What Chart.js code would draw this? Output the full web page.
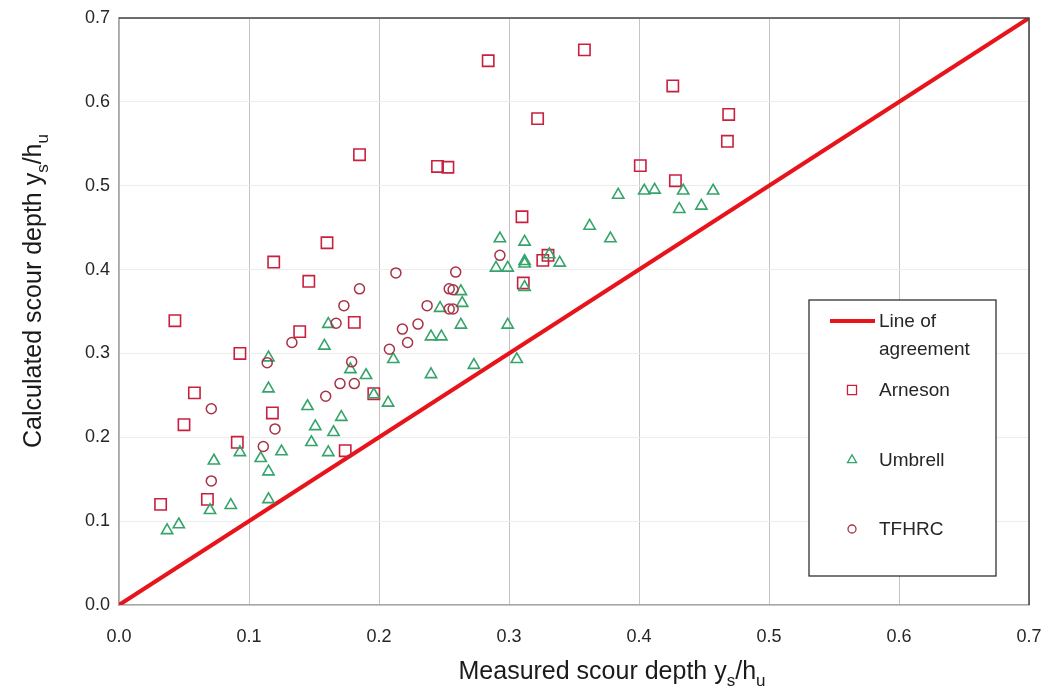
<!DOCTYPE html>
<html>
<head>
<meta charset="utf-8">
<script src="https://cdn.jsdelivr.net/npm/chart.js@4.4.0/dist/chart.umd.min.js"></script>
<style>
  html, body { margin: 0; padding: 0; background: #ffffff; }
  #wrap { width: 1048px; height: 694px; position: relative; }
</style>
</head>
<body>
<div id="wrap"><canvas id="scourChart"></canvas></div>
<script>
// Measured (x) vs calculated (y) scour depth
const arnesonMeasured = [0.032, 0.043, 0.050, 0.058, 0.068, 0.091, 0.093, 0.118, 0.119, 0.139,
    0.146, 0.160, 0.174, 0.181, 0.185, 0.196, 0.245, 0.253, 0.284, 0.310,
    0.311, 0.322, 0.326, 0.330, 0.358, 0.401, 0.426, 0.428, 0.468, 0.469];
const arnesonCalculated = [0.120, 0.339, 0.215, 0.253, 0.126, 0.194, 0.300, 0.229, 0.409, 0.326,
    0.386, 0.432, 0.184, 0.337, 0.537, 0.252, 0.523, 0.522, 0.649, 0.463,
    0.384, 0.580, 0.411, 0.417, 0.662, 0.524, 0.619, 0.506, 0.553, 0.585];

const umbrellMeasured = [0.037, 0.046, 0.070, 0.073, 0.086, 0.093, 0.109, 0.115, 0.115, 0.115,
    0.115, 0.125, 0.145, 0.148, 0.151, 0.158, 0.161, 0.161, 0.165, 0.171,
    0.178, 0.190, 0.196, 0.207, 0.211, 0.240, 0.240, 0.248, 0.247, 0.263,
    0.264, 0.263, 0.273, 0.290, 0.293, 0.299, 0.299, 0.306, 0.312, 0.312,
    0.312, 0.312, 0.331, 0.339, 0.362, 0.378, 0.384, 0.404, 0.412, 0.431,
    0.434, 0.448, 0.457];
const umbrellCalculated = [0.089, 0.096, 0.113, 0.172, 0.119, 0.182, 0.175, 0.126, 0.159, 0.258,
    0.295, 0.183, 0.237, 0.194, 0.213, 0.309, 0.335, 0.182, 0.206, 0.224,
    0.281, 0.274, 0.251, 0.241, 0.293, 0.320, 0.275, 0.320, 0.354, 0.374,
    0.360, 0.334, 0.286, 0.402, 0.437, 0.402, 0.334, 0.293, 0.433, 0.407,
    0.410, 0.379, 0.418, 0.408, 0.452, 0.437, 0.489, 0.494, 0.495, 0.472,
    0.494, 0.476, 0.494];

const tfhrcMeasured = [0.071, 0.071, 0.111, 0.114, 0.120, 0.133, 0.159, 0.167, 0.170, 0.173,
    0.179, 0.181, 0.185, 0.208, 0.213, 0.218, 0.222, 0.230, 0.237, 0.254,
    0.257, 0.254, 0.257, 0.259, 0.293];
const tfhrcCalculated = [0.234, 0.148, 0.189, 0.289, 0.210, 0.313, 0.249, 0.336, 0.264, 0.357,
    0.290, 0.264, 0.377, 0.305, 0.396, 0.329, 0.313, 0.335, 0.357, 0.377,
    0.376, 0.353, 0.353, 0.397, 0.417];

const agreementLine = [0, 0.7];
const axisTicks = [0.0, 0.1, 0.2, 0.3, 0.4, 0.5, 0.6, 0.7];

const FONT = "'Liberation Sans', Arial, sans-serif";
const RED_LINE = "#e8141c";
const SQUARE_RED = "#c8203e";
const TRI_GREEN = "#34a46a";
const CIRCLE_RED = "#a83246";

function zip(xs, ys) {
    return xs.map((x, i) => ({ x: x, y: ys[i] }));
}

// draws text where parts marked sub:true are lowered and smaller
function drawSubText(ctx, parts, size, cx, baseY) {
    const subSize = Math.round(size * 0.68);
    let total = 0;
    parts.forEach(p => {
        ctx.font = (p.sub ? subSize : size) + "px " + FONT;
        p.w = ctx.measureText(p.t).width;
        total += p.w;
    });
    let x = cx - total / 2;
    ctx.textAlign = "left";
    ctx.textBaseline = "alphabetic";
    parts.forEach(p => {
        ctx.font = (p.sub ? subSize : size) + "px " + FONT;
        ctx.fillText(p.t, x, baseY + (p.sub ? size * 0.28 : 0));
        x += p.w;
    });
}

const extrasPlugin = {
    id: "extras",
    afterDraw(chart) {
        const ctx = chart.ctx;
        const a = chart.chartArea;
        ctx.save();

        // dark top / right frame
        ctx.strokeStyle = "#404040";
        ctx.lineWidth = 1.5;
        ctx.beginPath();
        ctx.moveTo(a.left, a.top);
        ctx.lineTo(a.right, a.top);
        ctx.lineTo(a.right, a.bottom);
        ctx.stroke();

        // axis titles with subscripts
        ctx.fillStyle = "#1a1a1a";
        drawSubText(ctx, [
            { t: "Measured scour depth y" }, { t: "s", sub: true },
            { t: "/h" }, { t: "u", sub: true }
        ], 25, 612, 679);

        ctx.save();
        ctx.translate(41, 291);
        ctx.rotate(-Math.PI / 2);
        drawSubText(ctx, [
            { t: "Calculated scour depth y" }, { t: "s", sub: true },
            { t: "/h" }, { t: "u", sub: true }
        ], 25, 0, 0);
        ctx.restore();

        // legend box
        const bx = 809, by = 300, bw = 187, bh = 276;
        ctx.fillStyle = "#ffffff";
        ctx.fillRect(bx, by, bw, bh);
        ctx.strokeStyle = "#202020";
        ctx.lineWidth = 1.2;
        ctx.strokeRect(bx, by, bw, bh);

        ctx.strokeStyle = RED_LINE;
        ctx.lineWidth = 4;
        ctx.beginPath();
        ctx.moveTo(830, 321);
        ctx.lineTo(875, 321);
        ctx.stroke();

        ctx.fillStyle = "#262626";
        ctx.font = "19px " + FONT;
        ctx.textAlign = "left";
        ctx.textBaseline = "middle";
        ctx.fillText("Line of", 879, 322);
        ctx.fillText("agreement", 879, 350);

        const rows = [
            { ds: 1, y: 390 },
            { ds: 2, y: 460 },
            { ds: 3, y: 529 }
        ];
        rows.forEach(r => {
            const d = chart.data.datasets[r.ds];
            ctx.strokeStyle = d.borderColor;
            ctx.fillStyle = "rgba(0,0,0,0)";
            ctx.lineWidth = 1.3;
            Chart.helpers.drawPoint(ctx, {
                pointStyle: d.pointStyle,
                radius: d.pointRadius * 0.8,
                rotation: 0,
                borderWidth: 1.3
            }, 852, r.y);
            ctx.fillStyle = "#262626";
            ctx.font = "19px " + FONT;
            ctx.fillText(d.label, 879, r.y + 1);
        });

        ctx.restore();
    }
};

const ctx = document.getElementById("scourChart").getContext("2d");

new Chart(ctx, {
    type: "scatter",
    data: {
        datasets: [
            {
                type: "line",
                label: "Line of agreement",
                data: zip(agreementLine, agreementLine),
                borderColor: RED_LINE,
                borderWidth: 4,
                pointRadius: 0,
                fill: false,
                order: 4
            },
            {
                label: "Arneson",
                data: zip(arnesonMeasured, arnesonCalculated),
                pointStyle: "rect",
                pointRadius: 8,
                borderColor: SQUARE_RED,
                backgroundColor: "rgba(0,0,0,0)",
                borderWidth: 1.6,
                order: 3
            },
            {
                label: "Umbrell",
                data: zip(umbrellMeasured, umbrellCalculated),
                pointStyle: "triangle",
                pointRadius: 6.5,
                borderColor: TRI_GREEN,
                backgroundColor: "rgba(0,0,0,0)",
                borderWidth: 1.6,
                order: 2
            },
            {
                label: "TFHRC",
                data: zip(tfhrcMeasured, tfhrcCalculated),
                pointStyle: "circle",
                pointRadius: 5,
                borderColor: CIRCLE_RED,
                backgroundColor: "rgba(0,0,0,0)",
                borderWidth: 1.5,
                order: 1
            }
        ]
    },
    options: {
        responsive: true,
        maintainAspectRatio: false,
        animation: false,
        events: [],
        layout: { padding: { top: 18, right: 19, left: 0, bottom: 0 } },
        plugins: {
            legend: { display: false },
            tooltip: { enabled: false }
        },
        scales: {
            x: {
                type: "linear",
                min: 0,
                max: 0.7,
                afterFit: s => { s.height = 89; s.paddingLeft = 0; s.paddingRight = 0; },
                afterBuildTicks: s => { s.ticks = axisTicks.map(v => ({ value: v })); },
                ticks: {
                    padding: 21,
                    color: "#262626",
                    font: { family: FONT, size: 18 },
                    callback: v => v.toFixed(1)
                },
                grid: { color: "#c4c4c4", lineWidth: 1, drawTicks: false },
                border: { color: "#a6a6a6", width: 1.5 }
            },
            y: {
                type: "linear",
                min: 0,
                max: 0.7,
                afterFit: s => { s.width = 119; s.paddingTop = 0; s.paddingBottom = 0; },
                afterBuildTicks: s => { s.ticks = axisTicks.map(v => ({ value: v })); },
                ticks: {
                    padding: 9,
                    color: "#262626",
                    font: { family: FONT, size: 18 },
                    callback: v => v.toFixed(1)
                },
                grid: { color: "#ececec", lineWidth: 1, drawTicks: false },
                border: { color: "#a6a6a6", width: 1.5 }
            }
        }
    },
    plugins: [extrasPlugin]
});
</script>
</body>
</html>
